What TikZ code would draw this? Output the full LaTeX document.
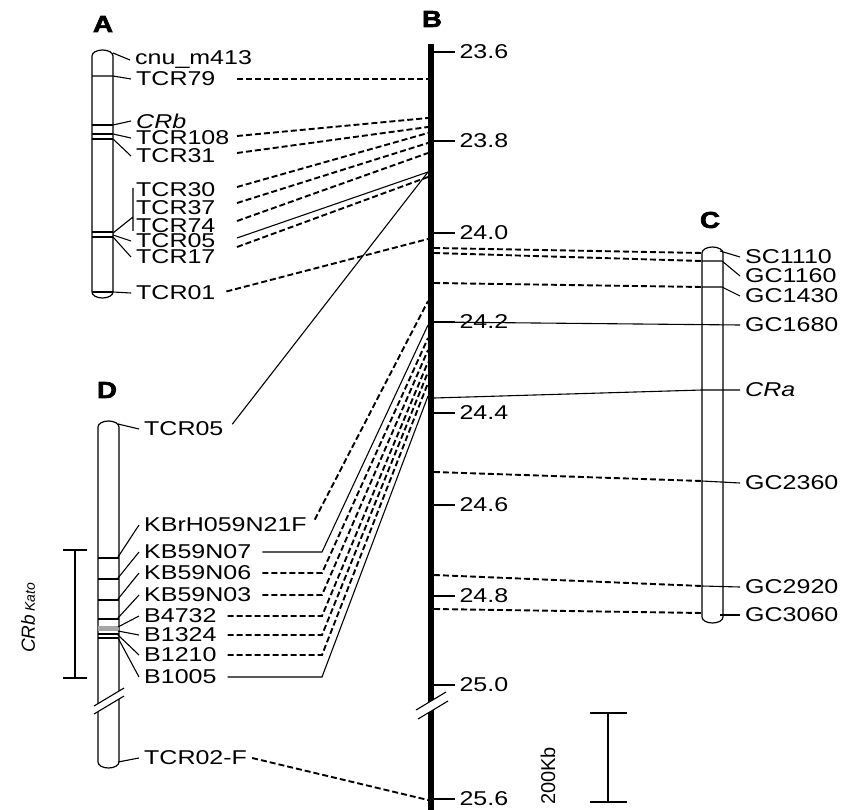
\documentclass[tikz,border=0pt]{standalone}
\usepackage{fontspec}
\setmainfont{Liberation Sans}[FakeStretch=1.25]
\newfontfamily\plainsans{Liberation Sans}
\newfontfamily\heavy{Liberation Sans}[BoldFeatures={FakeBold=3}, FakeStretch=1.2]
\usepackage{tikz}
\usetikzlibrary{calc}
\tikzset{
  chrom/.style={draw=black, line width=1.2pt, fill=white},
  mk/.style={anchor=west, inner xsep=5pt, inner ysep=1pt},
  panel/.style={font=\heavy\bfseries\fontsize{23}{25}\selectfont},
  lead/.style={line width=1.1pt},
  link/.style={line width=1.9pt, dash pattern=on 6pt off 3pt},
  solidlink/.style={line width=1.1pt},
  fromlbl/.style={shorten <=6pt}
}
% chromosome bar: left x, top y, bottom y
\newcommand{\drawchrom}[3]{%
  \draw[chrom] (#1,#2+6) -- (#1,#3-6)
    arc[start angle=180, end angle=360, x radius=10.5pt, y radius=6pt]
    -- (#1+21,#2+6)
    arc[start angle=0, end angle=180, x radius=10.5pt, y radius=6pt] -- cycle;}

\begin{document}
\begin{tikzpicture}[x=1pt, y=-1pt, font=\fontsize{20}{21}\selectfont]
  \useasboundingbox (0,0) rectangle (853,810);

  \node[panel] (pA) at (103,24)  {A};
  \node[panel] (pB) at (432,19)  {B};
  \node[panel] (pC) at (710,220) {C};
  \node[panel] (pD) at (107,390) {D};

  % B: physical map
  \draw[line width=6pt] (431,44) -- (431,810);
  \foreach \v/\y [count=\i] in {23.6/52, 23.8/141, 24.0/233, 24.2/322, 24.4/413,
                                24.6/505, 24.8/596, 25.0/685, 25.6/799}
    \draw[lead] (434,\y) -- (455,\y) node[mk, inner xsep=4pt] (tk\i) {\v};
  \fill[white] (416,710) -- (446,692) -- (448,701) -- (418,719) -- cycle;
  \draw[lead] (416,710) -- (446,692) (418,719) -- (448,701);

  \foreach \n/\y in {79/79, 108/118, 31/127, 30/133, 37/143, 74/153, 05/172, 17/177,
                     01/239, H21F/301, 07/325, 06/338, 03/350, 4732/362, 1324/372,
                     1210/383, 1005/396, 02F/800}
    \coordinate (b\n) at (428,\y);
  \foreach \n/\y in {1110/248, 1160/253, 1430/283, 1680/322, CRa/398, 2360/472,
                     2920/575, 3060/609}
    \coordinate (r\n) at (434,\y);

  % A: linkage map
  \drawchrom{92}{50}{298}
  \foreach \y in {125,232,237,292}
    \draw[lead] (92,\y) -- (113,\y);
  \draw[lead] (92,134) -- (113,134) (92,139) -- (113,139);
  \node[mk] (aM413) at (130,60)  {cnu\_m413};
  \node[mk] (a79)   at (131,79)  {TCR79};
  \node[mk] (aCRb)  at (131,121) {\itshape CRb};
  \node[mk] (a108)  at (131,138) {TCR108};
  \node[mk] (a31)   at (131,156) {TCR31};
  \node[mk] (a30)   at (131,190) {TCR30};
  \node[mk] (a37)   at (131,208) {TCR37};
  \node[mk] (a74)   at (131,226) {TCR74};
  \node[mk] (a05)   at (131,241) {TCR05};
  \node[mk] (a17)   at (131,257) {TCR17};
  \node[mk] (a01)   at (131,293) {TCR01};
  \draw[lead] (92,76) -- (113,76) -- (a79.west);
  \foreach \y/\to in {53/aM413, 125/aCRb, 134/a108, 139/a31, 235/a05, 237/a17, 292/a01} {
    \coordinate (\to-s) at (113,\y);
    \draw[lead] (\to-s) -- (\to.west);
  }
  \draw[lead] (133,188) -- (133,231) (113,233) -- (133,217);

  \coordinate (acol) at (237,0);
  \foreach \from/\to/\dy in {a79/b79/0, a108/b108/2, a31/b31/3, a30/b30/3,
                             a37/b37/5, a74/b74/5, a17/b17/10}
    \draw[link] ($(\from.east -| acol)+(0,-\dy)$) -- (\to);
  \draw[solidlink] ($(a05.east -| acol)+(0,-3)$) -- (b05);
  \draw[link, fromlbl] (a01.east) -- (b01);

  % C: linkage map
  \drawchrom{702}{247}{623}
  \coordinate (cleft) at (702,0);
  \node[mk] (c1110) at (740,257) {SC1110};
  \node[mk] (c1160) at (740,276) {GC1160};
  \node[mk] (c1430) at (740,296) {GC1430};
  \node[mk] (c1680) at (740,325) {GC1680};
  \node[mk] (cCRa)  at (740,390) {\itshape CRa};
  \node[mk] (c2360) at (740,483) {GC2360};
  \node[mk] (c2920) at (740,587) {GC2920};
  \node[mk] (c3060) at (740,615) {GC3060};
  \foreach \n/\y in {1110/253, 1160/261, 1430/287, 2360/481, 2920/586, 3060/613}
    \coordinate (cb\n) at (702,\y);
  \draw[lead] (720,251) -- (c1110.west);
  \draw[lead] (cb1160) -- (722,261) -- (c1160.west);
  \draw[lead] (cb1430) -- (722,287) -- (c1430.west);
  \foreach \n in {2360,2920}
    \draw[lead] (cb\n) -- (c\n.west);
  \draw[lead] (720,615) -- (c3060.west);
  \foreach \n in {1110,1160,1430,2360,2920,3060}
    \draw[link] (r\n) -- (cb\n);
  \draw[solidlink] (r1680) -- (c1680.west);
  \draw[solidlink] (rCRa) -- (cCRa.west -| cleft) -- (cCRa.west);

  % D: linkage map
  \drawchrom{98}{421}{768}
  \foreach \y in {558,579,600,619,634,638}
    \draw[lead] (98,\y) -- (119,\y);
  \fill[gray!70] (98,626) rectangle (119,631);
  \fill[white] (94,706) -- (124,688) -- (124,696) -- (94,714) -- cycle;
  \draw[lead] (94,706) -- (124,688) (94,714) -- (124,696);
  \node[mk] (d05)   at (139,429) {TCR05};
  \node[mk] (dH21F) at (139,525) {KBrH059N21F};
  \node[mk] (d07)   at (139,552) {KB59N07};
  \node[mk] (d06)   at (139,573) {KB59N06};
  \node[mk] (d03)   at (139,595) {KB59N03};
  \node[mk] (d4732) at (139,616) {B4732};
  \node[mk] (d1324) at (139,635) {B1324};
  \node[mk] (d1210) at (139,655) {B1210};
  \node[mk] (d1005) at (139,677) {B1005};
  \node[mk] (d02F)  at (139,758) {TCR02-F};
  \foreach \y/\to in {424/d05, 557/dH21F, 578/d07, 599/d06, 618/d03, 627/d4732,
                      631/d1324, 635/d1210, 638/d1005, 762/d02F} {
    \coordinate (\to-s) at (118,\y);
    \draw[lead] (\to-s) -- (\to.west);
  }
  \draw[lead] (63,550) -- (87,550) (75,550) -- (75,678) (63,678) -- (87,678);
  \node[rotate=90, font=\plainsans\itshape] (kato) at (28,618)
    {\fontsize{19}{20}\selectfont CRb\,\fontsize{14}{15}\selectfont Kato};

  \coordinate (dcol) at (322,0);
  \draw[solidlink, fromlbl] (d05.east) -- (b05);
  \draw[link, fromlbl] (dH21F.east) -- (bH21F);
  \draw[solidlink, fromlbl] (d07.east) -- (d07.east -| dcol) -- (b07);
  \foreach \n in {06,03,4732,1324,1210}
    \draw[link, fromlbl] (d\n.east) -- (d\n.east -| dcol) -- (b\n);
  \draw[solidlink, fromlbl] (d1005.east) -- (d1005.east -| dcol) -- (b1005);
  \draw[link] (d02F.east) -- (b02F);

  % scale
  \draw[line width=2pt] (590,713) -- (627,713) (608,713) -- (608,802) (590,802) -- (627,802);
  \node[rotate=90, font=\plainsans\fontsize{20}{21}\selectfont] (scl) at (548,776) {200Kb};
\end{tikzpicture}
\end{document}
